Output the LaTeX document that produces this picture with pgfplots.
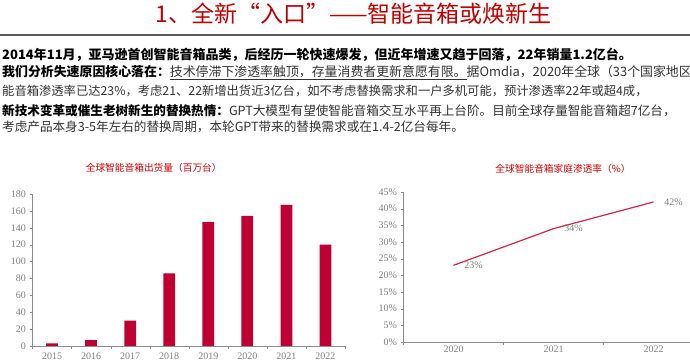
\documentclass[border=0pt]{standalone}
\usepackage{fontspec}
\setmainfont{Noto Sans CJK SC}
\newfontfamily\numfont{Liberation Serif}
\usepackage{pgfplots}
\pgfplotsset{compat=1.18}
\definecolor{barred}{RGB}{190,0,50}
\definecolor{linered}{RGB}{214,36,72}
\definecolor{headred}{RGB}{192,0,0}
\definecolor{titlered}{RGB}{204,0,0}
\definecolor{ticgray}{RGB}{128,128,128}
\definecolor{axgray}{RGB}{140,140,140}
\definecolor{rulegray}{RGB}{90,90,90}
\definecolor{txtgray}{RGB}{50,50,50}
\begin{document}
\begin{tikzpicture}[x=1pt,y=1pt]
\useasboundingbox (0,0) rectangle (690,363);
\node[headred, font=\fontsize{23}{26}\selectfont] at (353.5,349) {1、全新“入口”——智能音箱或焕新生};
\draw[line width=1.5pt, rulegray] (0,328) -- (690,328);
\begin{scope}[every node/.style={anchor=west, inner sep=0pt, font=\fontsize{12.6}{14}\selectfont}]
\node[black, font=\fontsize{13}{15}\selectfont] at (2,308) {\bfseries 2014年11月，亚马逊首创智能音箱品类，后经历一轮快速爆发，但近年增速又趋于回落，22年销量1.2亿台。};
\node[txtgray, font=\fontsize{12.9}{15}\selectfont] at (2,290) {{\bfseries\color{black}我们分析失速原因核心落在：}\underline{技术停滞下渗透率触顶，存量消费者更新意愿有限。}据Omdia，2020年全球（33个国家地区智};
\node[txtgray, font=\fontsize{12.3}{14}\selectfont] at (2,272) {能音箱渗透率已达23\%，考虑21、22新增出货近3亿台，如不考虑替换需求和一户多机可能，预计渗透率22年或超4成，};
\node[txtgray] at (2,252) {{\bfseries\color{black}新技术变革或催生老树新生的替换热情：}GPT大模型有望使智能音箱交互水平再上台阶。目前全球存量智能音箱超7亿台，};
\node[txtgray] at (2,236) {考虑产品本身3-5年左右的替换周期，本轮GPT带来的替换需求或在1.4-2亿台每年。};
\end{scope}
\node[titlered, font=\fontsize{9.7}{11}\selectfont] at (153.7,195) {全球智能音箱出货量（百万台）};
\node[titlered, font=\fontsize{9.7}{11}\selectfont] at (563,194) {全球智能音箱家庭渗透率（\%）};
\begin{axis}[at={(32.5pt,17pt)}, anchor=south west, scale only axis,
  width=312.5pt, height=152pt,
  xmin=-0.5, xmax=7.5, ymin=0, ymax=180,
  axis lines*=left, axis line style={axgray},
  ytick={0,20,...,180},
  xtick={-0.5,0.5,...,7.5}, x tick label as interval,
  xticklabels={2015,2016,2017,2018,2019,2020,2021,2022},
  tick align=outside, major tick length=3pt, tick style={axgray},
  tick label style={font=\numfont\fontsize{10}{12}\selectfont, text=ticgray},
  /pgf/number format/assume math mode=true,
  ybar, bar width=11.7pt]
\addplot[fill=barred, draw=none] coordinates {(0,3) (1,7) (2,30) (3,86) (4,147) (5,154) (6,167) (7,120)};
\end{axis}
\begin{axis}[at={(403.5pt,21pt)}, anchor=south west, scale only axis,
  width=286.5pt, height=150pt,
  xmin=-0.5, xmax=2.365, ymin=0, ymax=45,
  axis lines*=left, axis line style={axgray},
  ytick={0,5,...,45},
  yticklabel={\pgfmathprintnumber{\tick}\%},
  xtick={-0.5,0.5,1.5}, xticklabels={},
  extra x ticks={0,1,2}, extra x tick labels={2020,2021,2022},
  extra x tick style={major tick length=0pt},
  tick align=outside, major tick length=3pt, tick style={axgray},
  tick label style={font=\numfont\fontsize{10}{12}\selectfont, text=ticgray},
  /pgf/number format/assume math mode=true]
\addplot[linered, line width=1.2pt, mark=none,
  nodes near coords={\pgfmathprintnumber{\pgfplotspointmeta}\%},
  every node near coord/.append style={anchor=west, xshift=7pt, font=\numfont\fontsize{10}{12}\selectfont, text=ticgray}]
  coordinates {(0,23) (1,34) (2,42)};
\end{axis}
\end{tikzpicture}
\end{document}
